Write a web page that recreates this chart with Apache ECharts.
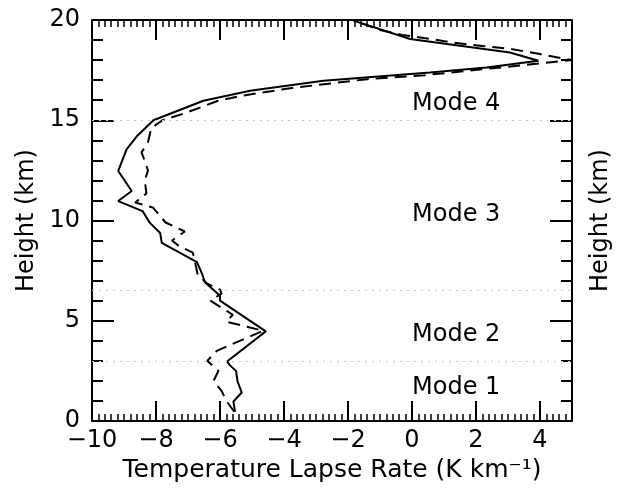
<!DOCTYPE html>
<html>
<head>
<meta charset="utf-8">
<script src="https://cdn.jsdelivr.net/npm/echarts@6/dist/echarts.min.js"></script>
<style>html,body{margin:0;padding:0;background:#fff}#c{width:623px;height:488px}</style>
</head>
<body>
<div id="c"></div>
<script>
// Solid profile: [lapse rate (K/km), height (km)]
const solidProfile = [
  [-5.53,0.47],[-5.58,0.97],[-5.32,1.42],[-5.45,1.97],[-5.5,2.5],[-5.7,2.8],[-5.78,2.97],
  [-4.57,4.47],[-6.0,6.0],[-6.0,6.25],[-6.47,6.92],[-6.57,7.38],[-6.72,7.92],
  [-7.82,8.88],[-7.87,9.38],[-8.19,9.88],[-8.42,10.47],[-9.18,10.97],[-8.76,11.47],
  [-9.18,12.47],[-8.92,13.55],[-8.6,14.2],[-8.08,15.0],[-6.52,15.97],[-5.06,16.47],
  [-2.77,16.97],[0.56,17.38],[2.33,17.63],[3.95,17.97],[3.06,18.38],[-0.06,19.05],[-1.83,19.97]
];
// Dashed profile: [lapse rate (K/km), height (km)]
const dashedProfile = [
  [-5.55,0.45],[-5.8,1.0],[-5.95,1.5],[-6.2,2.0],[-6.05,2.5],[-6.4,3.0],[-6.1,3.5],
  [-4.65,4.5],[-5.8,4.95],[-5.6,5.3],[-6.3,6.0],[-5.95,6.35],[-6.0,6.55],[-6.4,6.85],
  [-6.7,7.3],[-6.75,7.7],[-6.85,8.4],[-7.3,8.75],[-7.5,9.0],[-7.1,9.45],[-7.7,9.9],
  [-8.1,10.65],[-8.65,10.9],[-8.3,11.35],[-8.35,12.0],[-8.25,12.5],[-8.45,13.4],
  [-8.25,13.9],[-8.15,14.6],[-7.8,15.0],[-7.1,15.35],[-6.1,15.95],[-5.4,16.2],
  [-3.8,16.6],[-1.4,17.05],[0.4,17.25],[3.8,17.8],[5.0,18.0],[4.0,18.3],[3.1,18.55],
  [2.2,18.7],[1.3,18.87],[0.6,19.05],[-0.3,19.25],[-1.0,19.5],[-1.85,20.0]
];
// Mode boundaries (km) and mode labels
const modeBounds = [3, 6.5, 15];
const modeNames = ["Mode 1", "Mode 2", "Mode 3", "Mode 4"];
const modeLabelHeights = [1.65, 4.3, 10.3, 15.8];
const modeLabelX = 0;
// Axis settings
const xMin = -10, xMax = 5, xMajor = 2, xMinor = 0.2;
const yMin = 0, yMax = 20, yMajor = 5;
const xTitle = "Temperature Lapse Rate (K km\u207B\u00B9)";
const yTitle = "Height (km)";

const FONT = "DejaVu Sans";
const FS = 24;
const chart = echarts.init(document.getElementById('c'), null, {renderer: 'canvas'});

const baseX = {
  type: 'value', min: xMin, max: xMax, splitLine: {show: false}
};
const option = {
  animation: false,
  backgroundColor: '#fff',
  grid: {left: 92, right: 51, top: 20, bottom: 67, containLabel: false},
  xAxis: [
    Object.assign({}, baseX, {
      position: 'bottom', interval: xMajor,
      axisLine: {show: true, onZero: false, lineStyle: {color: '#000', width: 2}},
      axisTick: {show: true, inside: true, length: 20, lineStyle: {color: '#000', width: 2}},
      axisLabel: {show: true, color: '#000', fontFamily: FONT, fontSize: FS, margin: 8,
        showMaxLabel: false,
        formatter: v => (v < 0 ? '\u2212' + Math.abs(v) : String(v))},
      name: xTitle, nameLocation: 'middle', nameGap: 33,
      nameTextStyle: {color: '#000', fontFamily: FONT, fontSize: 25}
    }),
    Object.assign({}, baseX, {
      position: 'bottom', interval: xMinor,
      axisLine: {show: false, onZero: false},
      axisTick: {show: true, inside: true, length: 7, lineStyle: {color: '#000', width: 1.5}},
      axisLabel: {show: false}
    }),
    Object.assign({}, baseX, {
      position: 'top', interval: xMajor,
      axisLine: {show: true, onZero: false, lineStyle: {color: '#000', width: 2}},
      axisTick: {show: true, inside: true, length: 20, lineStyle: {color: '#000', width: 2}},
      axisLabel: {show: false}
    }),
    Object.assign({}, baseX, {
      position: 'top', interval: xMinor,
      axisLine: {show: false, onZero: false},
      axisTick: {show: true, inside: true, length: 7, lineStyle: {color: '#000', width: 1.5}},
      axisLabel: {show: false}
    })
  ],
  yAxis: [
    {
      type: 'value', min: yMin, max: yMax, interval: yMajor, position: 'left',
      splitLine: {show: false},
      axisLine: {show: true, onZero: false, lineStyle: {color: '#000', width: 2}},
      axisTick: {show: true, inside: true, length: 22, lineStyle: {color: '#000', width: 2}},
      minorTick: {show: true, splitNumber: 5, length: 11, lineStyle: {color: '#000', width: 2}},
      axisLabel: {show: true, color: '#000', fontFamily: FONT, fontSize: FS, margin: 12},
      name: yTitle, nameLocation: 'middle', nameGap: 52, nameRotate: 90,
      nameTextStyle: {color: '#000', fontFamily: FONT, fontSize: FS}
    },
    {
      type: 'value', min: yMin, max: yMax, interval: yMajor, position: 'right',
      splitLine: {show: false},
      axisLine: {show: true, onZero: false, lineStyle: {color: '#000', width: 2}},
      axisTick: {show: true, inside: true, length: 22, lineStyle: {color: '#000', width: 2}},
      minorTick: {show: true, splitNumber: 5, length: 11, lineStyle: {color: '#000', width: 2}},
      axisLabel: {show: false},
      name: yTitle, nameLocation: 'middle', nameGap: 17, nameRotate: 90,
      nameTextStyle: {color: '#000', fontFamily: FONT, fontSize: FS}
    }
  ],
  series: [
    {
      type: 'line', xAxisIndex: 0, yAxisIndex: 0, data: [], silent: true,
      markLine: {
        silent: true, symbol: 'none', label: {show: false},
        lineStyle: {color: '#c8c8c8', width: 1, type: [2, 5]},
        data: modeBounds.map(v => ({yAxis: v}))
      }
    },
    {
      type: 'scatter', xAxisIndex: 0, yAxisIndex: 0, symbolSize: 0, silent: true,
      itemStyle: {opacity: 1},
      data: modeNames.map((n, i) => ({value: [modeLabelX, modeLabelHeights[i]], name: n})),
      label: {show: true, position: 'right', distance: 0, formatter: p => p.name,
        color: '#000', opacity: 1, fontFamily: FONT, fontSize: 24, align: 'left', verticalAlign: 'middle'}
    },
    {
      type: 'line', xAxisIndex: 0, yAxisIndex: 0, data: dashedProfile,
      showSymbol: false, symbol: 'none', silent: true,
      lineStyle: {color: '#000', width: 2, type: [12, 7]}
    },
    {
      type: 'line', xAxisIndex: 0, yAxisIndex: 0, data: solidProfile,
      showSymbol: false, symbol: 'none', silent: true,
      lineStyle: {color: '#000', width: 2}
    }
  ]
};
chart.setOption(option);
</script>
</body>
</html>
